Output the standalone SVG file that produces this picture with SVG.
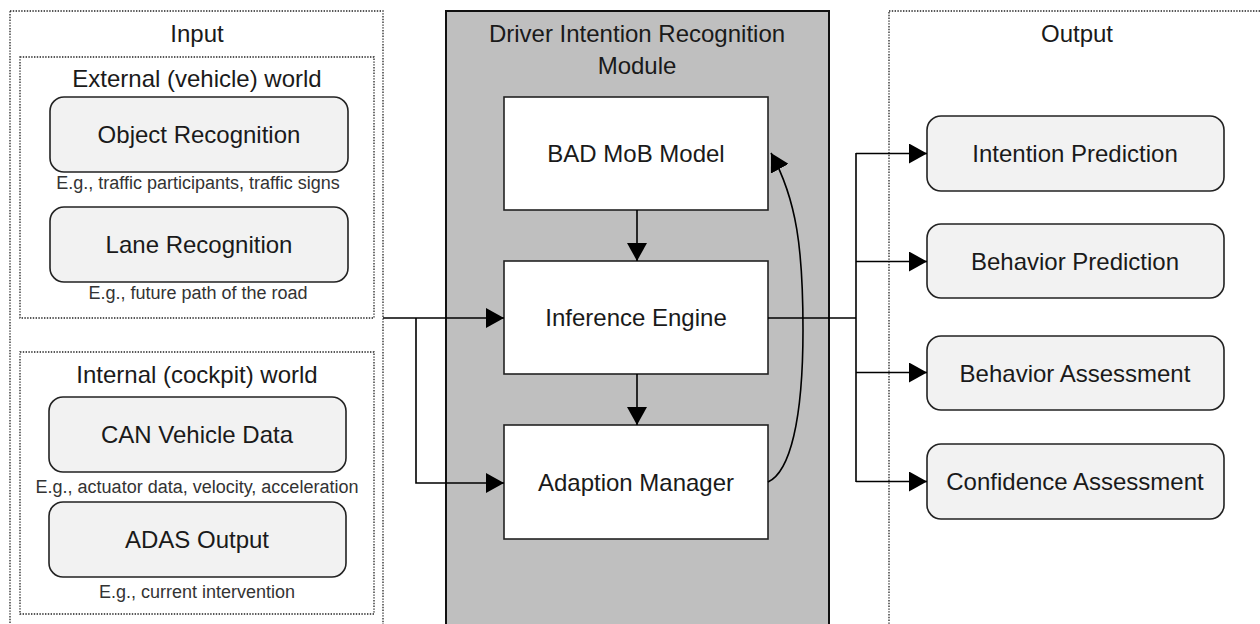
<svg xmlns="http://www.w3.org/2000/svg" width="1260" height="624" viewBox="0 0 1260 624">
<style>
  text { font-family: "Liberation Sans", Arial, sans-serif; fill: #1a1a1a; text-anchor: middle; }
  .big { font-size: 24px; }
  .small { font-size: 18px; fill: #333; }
  .dot { fill: none; stroke: #222; stroke-width: 1.3; stroke-dasharray: 1.4 1.4; }
  .rnode { fill: #f2f2f2; stroke: #222; stroke-width: 1.6; }
  .wnode { fill: #fff; stroke: #222; stroke-width: 1.6; }
  .conn { fill: none; stroke: #000; stroke-width: 1.6; }
</style>
<defs>
  <marker id="arr" viewBox="0 0 18 20" refX="18" refY="10" markerWidth="18" markerHeight="20" markerUnits="userSpaceOnUse" orient="auto">
    <path d="M0,0 L18,10 L0,20 Z" fill="#000"/>
  </marker>
</defs>
<rect width="1260" height="624" fill="#fff"/>

<g id="input-panel">
  <rect class="dot" x="10" y="11" width="373" height="640"/>
  <text class="big" x="197" y="42">Input</text>
</g>
<g id="external-world">
  <rect class="dot" x="20" y="57" width="354" height="261"/>
  <text class="big" x="197" y="87">External (vehicle) world</text>
</g>
<g id="object-recognition">
  <rect class="rnode" x="50" y="97" width="298" height="75" rx="14"/>
  <text class="big" x="199" y="143">Object Recognition</text>
  <text class="small" x="198" y="189">E.g., traffic participants, traffic signs</text>
</g>
<g id="lane-recognition">
  <rect class="rnode" x="50" y="207" width="298" height="75" rx="14"/>
  <text class="big" x="199" y="253">Lane Recognition</text>
  <text class="small" x="198" y="299">E.g., future path of the road</text>
</g>
<g id="internal-world">
  <rect class="dot" x="20" y="352" width="354" height="262"/>
  <text class="big" x="197" y="383">Internal (cockpit) world</text>
</g>
<g id="can-vehicle-data">
  <rect class="rnode" x="49" y="397" width="297" height="75" rx="14"/>
  <text class="big" x="197" y="443">CAN Vehicle Data</text>
  <text class="small" x="197" y="493">E.g., actuator data, velocity, acceleration</text>
</g>
<g id="adas-output">
  <rect class="rnode" x="49" y="502" width="297" height="75" rx="14"/>
  <text class="big" x="197" y="548">ADAS Output</text>
  <text class="small" x="197" y="598">E.g., current intervention</text>
</g>

<g id="dir-module">
  <rect x="446" y="11" width="383" height="640" fill="#bfbfbf" stroke="#111" stroke-width="2"/>
  <text class="big" x="637" y="42">Driver Intention Recognition</text>
  <text class="big" x="637" y="74">Module</text>
</g>
<g id="bad-mob-model">
  <rect class="wnode" x="504" y="97" width="264" height="113"/>
  <text class="big" x="636" y="162">BAD MoB Model</text>
</g>
<g id="inference-engine">
  <rect class="wnode" x="504" y="261" width="264" height="113"/>
  <text class="big" x="636" y="326">Inference Engine</text>
</g>
<g id="adaption-manager">
  <rect class="wnode" x="504" y="425" width="264" height="114"/>
  <text class="big" x="636" y="491">Adaption Manager</text>
</g>

<g id="output-panel">
  <rect class="dot" x="889" y="11" width="400" height="640"/>
  <text class="big" x="1077" y="42">Output</text>
</g>
<g id="intention-prediction">
  <rect class="rnode" x="927" y="116" width="297" height="75" rx="14"/>
  <text class="big" x="1075" y="162">Intention Prediction</text>
</g>
<g id="behavior-prediction">
  <rect class="rnode" x="927" y="224" width="297" height="74" rx="14"/>
  <text class="big" x="1075" y="270">Behavior Prediction</text>
</g>
<g id="behavior-assessment">
  <rect class="rnode" x="927" y="336" width="297" height="74" rx="14"/>
  <text class="big" x="1075" y="382">Behavior Assessment</text>
</g>
<g id="confidence-assessment">
  <rect class="rnode" x="927" y="444" width="297" height="75" rx="14"/>
  <text class="big" x="1075" y="490">Confidence Assessment</text>
</g>

<g id="connectors">
  <path class="conn" d="M383,318 H504" marker-end="url(#arr)"/>
  <path class="conn" d="M416,318 V483 H504" marker-end="url(#arr)"/>
  <path class="conn" d="M637,210 V261" marker-end="url(#arr)"/>
  <path class="conn" d="M637,374 V425" marker-end="url(#arr)"/>
  <path class="conn" d="M768,482 C790,472 803,420 803,330 C803,250 797,200 771,153" marker-end="url(#arr)"/>
  <path class="conn" d="M768,318 H856"/>
  <path class="conn" d="M856,153 V482"/>
  <path class="conn" d="M856,153.5 H927" marker-end="url(#arr)"/>
  <path class="conn" d="M856,261.5 H927" marker-end="url(#arr)"/>
  <path class="conn" d="M856,372.5 H927" marker-end="url(#arr)"/>
  <path class="conn" d="M856,481.5 H927" marker-end="url(#arr)"/>
</g>
</svg>
